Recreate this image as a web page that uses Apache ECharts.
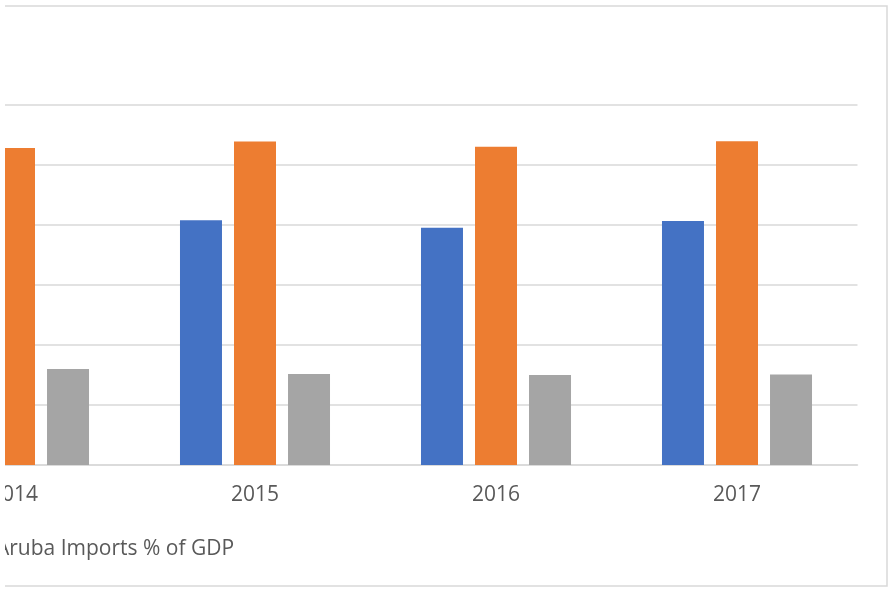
<!DOCTYPE html>
<html>
<head>
<meta charset="utf-8">
<script src="https://cdn.jsdelivr.net/npm/echarts@6/dist/echarts.min.js"></script>
<style>
html,body{margin:0;padding:0;background:#fff;overflow:hidden;}
#wrap{position:absolute;left:5px;top:0;width:885px;height:591px;overflow:hidden;}
#chart{position:absolute;left:-112px;top:0;width:997px;height:591px;}
</style>
</head>
<body>
<div id="wrap"><div id="chart"></div></div>
<script>
const categories = ['2014', '2015', '2016', '2017'];
const seriesNames = ['Aruba Exports % of GDP', 'Aruba Imports % of GDP', 'Aruba Trade Balance % of GDP'];
const blueValues = [80.5, 81.6, 79.1, 81.3];
const orangeValues = [105.7, 107.8, 106.1, 107.9];
const grayValues = [32.0, 30.3, 30.0, 30.2];
const yTicks = [0, 20, 40, 60, 80, 100, 120];

const chart = echarts.init(document.getElementById('chart'), null, {renderer: 'canvas'});
const colors = ['#4472c4', '#ed7d31', '#a5a5a5'];
const dataSets = [blueValues, orangeValues, grayValues];

chart.setOption({
  animation: false,
  backgroundColor: '#ffffff',
  grid: {left: 0.5, top: 105, width: 964, height: 360, containLabel: false},
  xAxis: {
    type: 'category',
    data: categories,
    axisLine: {lineStyle: {color: '#d9d9d9', width: 1.5}},
    axisTick: {show: false},
    axisLabel: {color: '#595959', fontSize: 21, fontFamily: 'Open Sans, Calibri, sans-serif', margin: 20}
  },
  yAxis: {
    type: 'value',
    min: yTicks[0],
    max: yTicks[yTicks.length - 1],
    interval: 20,
    axisLine: {show: false},
    axisTick: {show: false},
    axisLabel: {show: false},
    splitLine: {lineStyle: {color: '#d9d9d9', width: 1.5}}
  },
  legend: {
    data: [seriesNames[1]],
    left: 79,
    top: 534,
    itemWidth: 14,
    itemHeight: 14,
    itemGap: 5,
    icon: 'rect',
    textStyle: {color: '#595959', fontSize: 21, fontFamily: 'Open Sans, Calibri, sans-serif'}
  },
  graphic: [{
    type: 'rect',
    shape: {x: 87, y: 6, width: 907, height: 580},
    style: {fill: 'none', stroke: '#d9d9d9', lineWidth: 1.5},
    silent: true
  }],
  series: dataSets.map((d, i) => ({
    name: seriesNames[i],
    type: 'bar',
    data: d,
    barWidth: 42,
    barGap: '28.6%',
    itemStyle: {color: colors[i]}
  }))
});
</script>
</body>
</html>
